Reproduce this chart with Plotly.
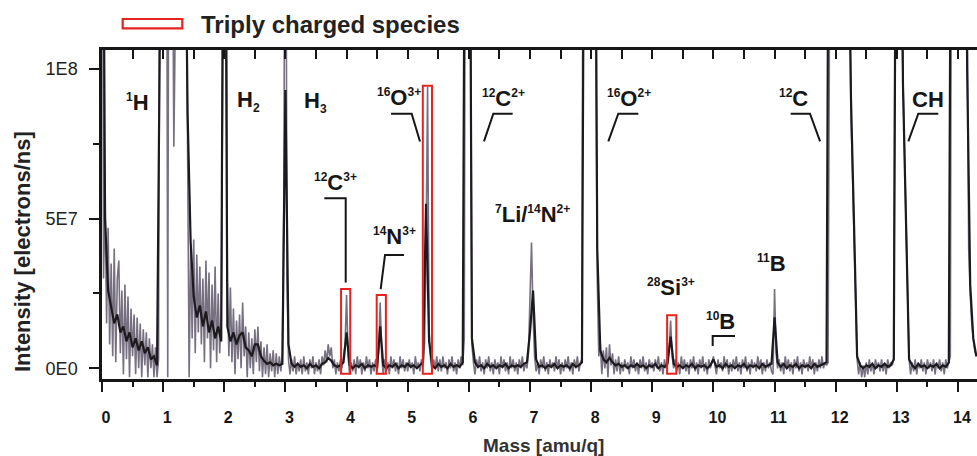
import numpy as np
import plotly.graph_objects as go

# ---------------- data (intensity in units of 1E6 electrons/ns) ----------------
RAW_STEP = 0.025   # amu/q between raw samples
AVG_STEP = 0.05    # amu/q between averaged samples

# raw signal (grey), one row per amu/q unit
raw_0 = [250, 30, 58, 15, 47, 8, 35, 4, 40, 2, 30, 36, 5, 26, -2, 28, 3, 24, -3, 20,
         4, 18, -2, 17, 0, 15, -3, 13, 1, 12, -3, 10, 0, 8, -3, 7, -3, 3, 250, 250]
raw_1 = [250, 250, 250, -3, 250, 250, 250, 74, 250, 250, 250, 250, 250, 250, 250, 150, 60, -3, 40, 10,
         43, 5, 38, 12, 34, 8, 30, 2, 36, 10, 32, 0, 28, 6, 34, 2, 25, 5, 20, 100]
raw_2 = [250, 250, 30, 4, 27, 2, 20, -2, 16, 3, 18, 0, 22, 4, 14, -3, 12, 0, 10, -2,
         13, 2, 14, -1, 9, -3, 7, -2, 8, -3, 5, -1, 6, -3, 5, -2, 4, -1, 5, 60]
raw_3 = [250, 30, 3, -2, 3, -1, 4, -2, 2, -1, 3, -2, 4, -1, 2, -2, 3, 0, 4, -2,
         2, -1, 3, -2, 4, 1, 6, 2, 8, 4, 7, 0, 3, -2, 2, -1, 3, 0, 4, 8]
raw_4 = [24.5, 4, -2, 2, -1, 3, -2, 4, 0, 3, -2, 2, -1, 4, 0, 3, -2, 2, -1, 3,
         -1, 6, 22, 4, -2, 3, -1, 2, -2, 4, 0, 3, -1, 2, -2, 4, 0, 3, -1, 2]
raw_5 = [-1, 3, 0, 2, -2, 4, 0, 2, -1, 3, 1, 8, 40, 94, 12, 3, -1, 3, 0, 4,
         -1, 3, -1, 4, 0, 2, -2, 3, 0, 4, -1, 2, -2, 3, 0, 4, 1, 10, 250, 250]
raw_6 = [250, 150, 8, 2, -2, 3, 0, 4, -1, 2, -2, 3, 0, 4, -1, 2, -2, 3, 0, 2,
         -2, 4, 0, 3, -1, 2, -2, 4, 0, 3, -1, 2, -2, 3, 0, 4, -1, 2, 0, 5]
raw_7 = [20, 42, 18, 4, -1, 2, -2, 3, 0, 4, -1, 2, -2, 3, 0, 2, -1, 4, 0, 3,
         -2, 2, -1, 3, 0, 4, -1, 2, -2, 3, 0, 4, -1, 2, 3, 250, 250, 250, 250, 250]
raw_8 = [250, 250, 250, 120, 30, 4, 8, -2, 6, 0, 7, -3, 8, 1, 5, -2, 3, -1, 4, -2,
         2, -1, 3, 0, 2, -2, 4, 0, 3, -1, 2, -2, 3, 0, 4, -1, 2, -2, 3, 0]
raw_9 = [2, -1, 3, 0, 4, -1, 2, -2, 3, 0, 4, 6, 16, 4, 0, 3, -1, 2, -2, 4,
         0, 3, -1, 2, -2, 3, 0, 4, -1, 2, -2, 3, 0, 4, -1, 2, -2, 3, 0, 2]
raw_10 = [4, 1, -2, 3, 0, 2, -1, 4, 0, 3, -2, 2, -1, 3, 0, 4, -1, 2, -2, 3,
          0, 4, -1, 2, -2, 3, 0, 2, -1, 4, 0, 3, -2, 2, -1, 3, 0, 2, -1, -2]
raw_11 = [26.5, 5, 0, 3, -1, 2, -2, 4, 0, 3, -1, 2, -2, 3, 0, 4, -1, 2, -2, 3,
          0, 2, -1, 4, 0, 3, -2, 2, -1, 3, 0, 4, 0, 2, 1, 2, 120, 250, 250, 250]
raw_12 = [250, 250, 250, 250, 250, 250, 250, 250, 180, 120, 85, 65, 45, 25, 3, -2, 2, -3, 1, -3,
          2, -2, 3, -1, 2, -2, 3, 0, 2, -1, 3, -1, 2, -2, 3, 0, 2, 1, 3, 150]
raw_13 = [250, 250, 250, 120, 95, 70, 48, 25, 3, -2, 2, -1, 3, -2, 2, 0, 3, -1, 2, -2,
          3, 0, 2, -1, 3, -2, 2, 0, 3, -1, 2, -2, 3, 0, 2, 4, 250, 250, 250, 250]
raw_14 = [250, 250, 250, 250, 250, 200, 95, 40, 25, 15, 10, 6, 4]

# averaged signal (black)
avg_0 = [250, 50, 26, 21, 15, 18, 12, 14, 9, 12, 7, 10, 6, 9, 5, 7, 3, 4, 1, 120]
avg_1 = [250, 250, 250, 250, 250, 250, 250, 180, 85, 42, 24, 17, 21, 14, 19, 12, 16, 10, 14, 9]
avg_2 = [250, 14, 9, 12, 8, 11, 12, 7, 6, 4, 8, 8, 4, 2.5, 1.5, 2, 1, 1.5, 1, 1.5]
avg_3 = [93, 8, 1.5, 0.5, 1.5, 0.5, 1, 0, 1.5, 0.5, 1, 0, 1.5, 2, 3.5, 2.5, 1, 0.5, 1, 2]
avg_4 = [12, 1, 0, 1, 0.5, 1.5, 0, 1, 0.5, 1, 0.5, 14, 1, 0, 1, 0.5, 1.5, 0, 1, 0.5]
avg_5 = [1.5, 0.5, 1, 0, 1, 2, 55, 9, 1, 0, 1.5, 0.5, 1, 0, 1.5, 0.5, 1, 0.5, 2, 250]
avg_6 = [250, 10, 2, 0.5, 1, 0, 1.5, 0.5, 1, 0, 1, 0.5, 1.5, 0, 1, 0.5, 1, 0.5, 1.5, 2]
avg_7 = [12, 26, 3, 0.5, 1, 0, 1, 0.5, 1.5, 0, 1, 0.5, 1, 0, 1.5, 0.5, 1, 2, 250, 250]
avg_8 = [250, 250, 40, 6, 3, 2, 3.5, 2, 1, 1.5, 0.5, 1, 0, 1, 0.5, 1.5, 0.5, 1, 0, 1]
avg_9 = [0.5, 1.5, 0, 1, 0.5, 1.5, 10.6, 1.5, 0.5, 1, 0, 1, 0.5, 1.5, 0, 1, 0.5, 1, 0, 1]
avg_10 = [3, 0.5, 1, 0, 1.5, 0.5, 1, 0, 1, 0.5, 1.5, 0, 1, 0.5, 1, 0, 1.5, 0.5, 1, 1.5]
avg_11 = [17, 2, 0.5, 1.5, 0, 1, 0.5, 1.5, 0, 1, 0.5, 1, 0, 1.5, 0.5, 1, 1.5, 2, 250, 250]
avg_12 = [250, 250, 250, 250, 170, 90, 48, 4, 1, 0, 1, 0.5, 1.5, 0, 1, 0.5, 1.5, 0.5, 1, 3]
avg_13 = [250, 250, 95, 48, 3, 1, 0, 1.5, 0.5, 1, 0, 1, 0.5, 1.5, 0, 1, 0.5, 2, 250, 250]
avg_14 = [250, 250, 250, 100, 28, 10, 4]

# triply charged species (red boxes): mass, box top (1E6)
tri_mass = [3.985, 4.568, 5.322, 9.318]
tri_top = [26.5, 24.5, 94.4, 17.7]

x_ticks = list(range(0, 15))
y_tickvals = [0, 5e7, 1e8]
y_ticktext = ["0E0", "5E7", "1E8"]

# ---------------- assemble ----------------
raw = np.concatenate([raw_0, raw_1, raw_2, raw_3, raw_4, raw_5, raw_6, raw_7,
                      raw_8, raw_9, raw_10, raw_11, raw_12, raw_13, raw_14]) * 1e6
avg = np.concatenate([avg_0, avg_1, avg_2, avg_3, avg_4, avg_5, avg_6, avg_7,
                      avg_8, avg_9, avg_10, avg_11, avg_12, avg_13, avg_14]) * 1e6
raw_x = np.round(np.arange(len(raw)) * RAW_STEP, 3)
avg_x = np.round(np.arange(len(avg)) * AVG_STEP, 3)

FONT = "Liberation Sans, Arial, Helvetica, sans-serif"
INK = "#161616"
RED = "#e5231f"

fig = go.Figure()
fig.add_trace(go.Scatter(x=raw_x, y=raw, mode="lines",
                         line=dict(color="#767080", width=1.6), hoverinfo="skip"))
fig.add_trace(go.Scatter(x=avg_x, y=avg, mode="lines",
                         line=dict(color="#1c1a1e", width=2.2), hoverinfo="skip"))
# carrier for the top tick axis
fig.add_trace(go.Scatter(x=[None], y=[None], xaxis="x2", yaxis="y", hoverinfo="skip"))

XR = [0, 14.311]
YR = [-3.57e6, 106.35e6]

def sup(s):
    return f"<sup><span style='font-size:12px'>{s}</span></sup>"

def sub(s):
    return f"<sub><span style='font-size:12px'>{s}</span></sub>"

# label text, mass, intensity (1E6)
labels = [
    (sup("1") + "H", 0.581, 88.9),
    ("H" + sub("2"), 2.404, 89.2),
    ("H" + sub("3"), 3.484, 89.1),
    (sup("16") + "O" + sup("3+"), 4.861, 90.4),
    (sup("12") + "C" + sup("2+"), 6.573, 90.1),
    (sup("12") + "C" + sup("3+"), 3.822, 62.0),
    (sup("14") + "N" + sup("3+"), 4.779, 43.9),
    (sup("7") + "Li/" + sup("14") + "N" + sup("2+"), 7.049, 51.3),
    (sup("16") + "O" + sup("2+"), 8.618, 90.1),
    (sup("12") + "C", 11.307, 90.1),
    ("CH", 13.516, 89.7),
    (sup("28") + "Si" + sup("3+"), 9.298, 27.0),
    (sup("10") + "B", 10.116, 15.6),
    (sup("11") + "B", 10.950, 34.9),
]

annotations = []
for txt, mx, my in labels:
    annotations.append(dict(x=mx, y=my * 1e6, xref="x", yref="y", text=txt,
                            showarrow=False, xanchor="center", yanchor="middle",
                            font=dict(family=FONT, size=22, color=INK, weight=700)))

# leader lines (mass, intensity 1E6)
leaders = [
    [(4.727, 85.05), (5.065, 85.05), (5.201, 75.8)],
    [(6.717, 85.05), (6.400, 85.05), (6.248, 75.8)],
    [(3.636, 56.86), (3.986, 56.86), (3.986, 28.63)],
    [(4.939, 37.89), (4.629, 37.89), (4.558, 26.42)],
    [(8.772, 85.05), (8.444, 85.05), (8.281, 75.8)],
    [(11.264, 85.05), (11.580, 85.05), (11.744, 75.8)],
    [(13.678, 85.05), (13.351, 85.05), (13.188, 75.8)],
    [(9.988, 7.46), (9.988, 10.80), (10.353, 10.80)],
]

shapes = []
for pts in leaders:
    path = "M " + " L ".join(f"{px},{py * 1e6}" for px, py in pts)
    shapes.append(dict(type="path", path=path, xref="x", yref="y",
                       line=dict(color=INK, width=2)))

HALF_W = 0.075
for m, top in zip(tri_mass, tri_top):
    shapes.append(dict(type="rect", xref="x", yref="y", x0=m - HALF_W, x1=m + HALF_W,
                       y0=-1.8e6, y1=top * 1e6, line=dict(color=RED, width=2),
                       fillcolor="rgba(0,0,0,0)", layer="above"))

# legend (drawn as a small red box + text above the plot)
W, H, L, T, B = 977, 456, 102, 50, 77
PW, PH = W - L, H - T - B
def px2paper_x(px):
    return (px - L) / PW
def px2paper_y(py):
    return (H - B - py) / PH

shapes.append(dict(type="rect", xref="paper", yref="paper",
                   x0=px2paper_x(122.7), x1=px2paper_x(182.3),
                   y0=px2paper_y(28.3), y1=px2paper_y(19),
                   line=dict(color=RED, width=2.2), fillcolor="rgba(0,0,0,0)"))
annotations.append(dict(x=px2paper_x(199), y=px2paper_y(24), xref="paper", yref="paper",
                        text="Triply charged species", showarrow=False,
                        xanchor="left", yanchor="middle",
                        font=dict(family=FONT, size=24, color="#222", weight=700)))
annotations.append(dict(x=px2paper_x(543), y=px2paper_y(445), xref="paper", yref="paper",
                        text="Mass [amu/q]", showarrow=False,
                        xanchor="center", yanchor="middle",
                        font=dict(family=FONT, size=19, color="#333", weight=700)))
annotations.append(dict(x=px2paper_x(22), y=px2paper_y(252), xref="paper", yref="paper",
                        text="Intensity [electrons/ns]", showarrow=False, textangle=-90,
                        xanchor="center", yanchor="middle",
                        font=dict(family=FONT, size=22, color="#222", weight=700)))

fig.update_layout(
    width=W, height=H,
    margin=dict(l=L, r=0, t=T, b=B, pad=0),
    paper_bgcolor="white", plot_bgcolor="white",
    showlegend=False,
    shapes=shapes, annotations=annotations,
    xaxis=dict(range=XR, showgrid=False, zeroline=False,
               showline=True, linecolor=INK, linewidth=2.5, mirror=True,
               ticks="outside", ticklen=10, tickwidth=2, tickcolor=INK,
               tickvals=x_ticks, ticklabelshift=4, ticklabelstandoff=12,
               tickfont=dict(family=FONT, size=16, color=INK, weight=700),
               minor=dict(ticks="outside", ticklen=5, tickwidth=2, tickcolor=INK,
                          dtick=0.5, tick0=0, showgrid=False)),
    xaxis2=dict(range=XR, overlaying="x", side="top", anchor="y",
                showgrid=False, zeroline=False, showline=False,
                ticks="inside", ticklen=9, tickwidth=2, tickcolor=INK,
                tickvals=x_ticks, showticklabels=False,
                minor=dict(ticks="inside", ticklen=9, tickwidth=2, tickcolor=INK,
                           dtick=0.5, tick0=0, showgrid=False)),
    yaxis=dict(range=YR, showgrid=False, zeroline=False,
               showline=True, linecolor=INK, linewidth=2.5,
               ticks="outside", ticklen=10, tickwidth=2, tickcolor=INK,
               tickvals=y_tickvals, ticktext=y_ticktext, ticklabelstandoff=8,
               tickfont=dict(family=FONT, size=18, color="#222"),
               minor=dict(ticks="outside", ticklen=6, tickwidth=2, tickcolor=INK,
                          dtick=2.5e7, tick0=0, showgrid=False)),
)

fig.write_html("out.html")
